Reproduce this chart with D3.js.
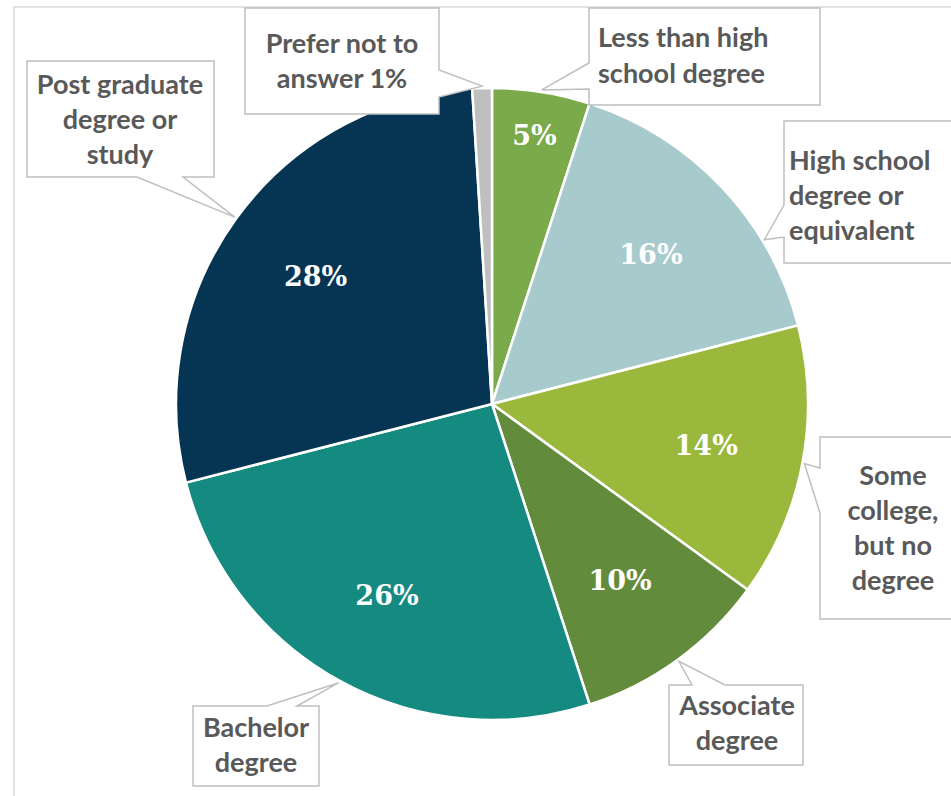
<!DOCTYPE html>
<html lang="en">
<head>
    <meta charset="UTF-8">
    <title>Education level</title>
    <script src="https://d3js.org/d3.v7.min.js"></script>
    <style>
        body { margin: 0; background: #ffffff; }
        svg { display: block; }
        .callout text { font-family: Lato, "Open Sans", sans-serif; font-weight: bold; font-size: 27px; fill: #595959; }
        .pct { font-family: "DejaVu Serif", serif; font-weight: bold; font-size: 27px; fill: #ffffff; }
    </style>
</head>
<body>
    <svg id="chart" width="951" height="796"></svg>
    <script>
        // data, clockwise from 12 o'clock
        const categories = [
            "Less than high school degree",
            "High school degree or equivalent",
            "Some college, but no degree",
            "Associate degree",
            "Bachelor degree",
            "Post graduate degree or study",
            "Prefer not to answer"
        ];
        const values = [5, 16, 14, 10, 26, 28, 1];
        const colors = ["#7baa4a", "#a7cbcc", "#9ab83b", "#628b3c", "#158a80", "#063453", "#bfbfbf"];

        // callout boxes (layout only), same order as categories
        const callouts = [
            { box: [589, 8, 820, 105], side: "left", base: [63, 89], tipAt: 0.5, anchor: "start", tx: 598, ty: [47, 83], lines: ["Less than high", "school degree"] },
            { box: [784, 121, 960, 263], side: "left", base: [205, 237], tipAt: 0.71, anchor: "start", tx: 789, ty: [170, 205, 240], lines: ["High school", "degree or", "equivalent"] },
            { box: [820, 437, 960, 619], side: "left", base: [468, 513], tipAt: 0.5, anchor: "middle", tx: 893, ty: [485, 520, 555, 590], lines: ["Some", "college,", "but no", "degree"] },
            { box: [669, 685, 803, 765], side: "top", base: [692, 725], tipAt: 0.5, anchor: "middle", tx: 737, ty: [715, 750], lines: ["Associate", "degree"] },
            { box: [193, 706, 319, 786], side: "top", base: [267, 297], tipAt: 0.5, anchor: "middle", tx: 256, ty: [737, 772], lines: ["Bachelor", "degree"] },
            { box: [27, 61, 214, 177], side: "bottom", base: [137, 183], tipAt: 0.5, anchor: "middle", tx: 120, ty: [94, 129, 164], lines: ["Post graduate", "degree or", "study"] },
            { box: [245, 8, 439, 114], side: "right", base: [70, 97], tipAt: 0.5, anchor: "middle", tx: 342, ty: [53, 88], lines: ["Prefer not to", "answer {v}%"] }
        ];

        const svg = d3.select("#chart");
        const cx = 492, cy = 404, R = 316;

        // chart area frame (top and left edges visible)
        svg.append("rect")
            .attr("x", 14).attr("y", 7)
            .attr("width", 1000).attr("height", 1000)
            .attr("fill", "none")
            .attr("stroke", "#d9d9d9")
            .attr("stroke-width", 1.5);

        const pie = d3.pie().sort(null).value(d => d);
        const arcs = pie(values);
        const arc = d3.arc().innerRadius(0).outerRadius(R);

        const g = svg.append("g").attr("transform", `translate(${cx},${cy})`);

        g.selectAll("path.slice")
            .data(arcs)
            .join("path")
            .attr("class", "slice")
            .attr("d", arc)
            .attr("fill", (d, i) => colors[i])
            .attr("stroke", "#ffffff")
            .attr("stroke-width", 2.5)
            .attr("stroke-linejoin", "round");

        // percentage labels inside the slices (the 1% one goes in its callout)
        const labelArc = d3.arc().innerRadius(R * 0.69).outerRadius(R * 0.69);
        const smallArc = d3.arc().innerRadius(R * 0.86).outerRadius(R * 0.86);
        g.selectAll("text.pct")
            .data(arcs.filter(d => d.value >= 3))
            .join("text")
            .attr("class", "pct")
            .attr("text-anchor", "middle")
            .attr("dy", "0.36em")
            .attr("transform", d => {
                const a = (d.value < 8 ? smallArc : labelArc);
                return `translate(${a.centroid(d)})`;
            })
            .text(d => d.value + "%");

        function tipPoint(d, c) {
            const ang = d.startAngle + (d.endAngle - d.startAngle) * c.tipAt;
            const r = R + 2;
            return [cx + r * Math.sin(ang), cy - r * Math.cos(ang)];
        }

        function calloutPath(c, tip) {
            const [x0, y0, x1, y1] = c.box, [a, b] = c.base;
            const p = d3.path();
            p.moveTo(x0, y0);
            if (c.side === "top") { p.lineTo(a, y0); p.lineTo(tip[0], tip[1]); p.lineTo(b, y0); }
            p.lineTo(x1, y0);
            if (c.side === "right") { p.lineTo(x1, a); p.lineTo(tip[0], tip[1]); p.lineTo(x1, b); }
            p.lineTo(x1, y1);
            if (c.side === "bottom") { p.lineTo(b, y1); p.lineTo(tip[0], tip[1]); p.lineTo(a, y1); }
            p.lineTo(x0, y1);
            if (c.side === "left") { p.lineTo(x0, b); p.lineTo(tip[0], tip[1]); p.lineTo(x0, a); }
            p.closePath();
            return p.toString();
        }

        const co = svg.selectAll("g.callout")
            .data(arcs)
            .join("g")
            .attr("class", "callout");

        co.append("path")
            .attr("d", (d, i) => calloutPath(callouts[i], tipPoint(d, callouts[i])))
            .attr("fill", "#ffffff")
            .attr("stroke", "#bfbfbf")
            .attr("stroke-width", 1.5)
            .attr("stroke-linejoin", "miter");

        co.each(function (d, i) {
            const c = callouts[i];
            const t = d3.select(this).append("text").attr("text-anchor", c.anchor);
            c.lines.forEach((ln, k) => {
                t.append("tspan")
                    .attr("x", c.tx)
                    .attr("y", c.ty[k])
                    .text(ln.replace("{v}", values[i]));
            });
        });
    </script>
</body>
</html>
